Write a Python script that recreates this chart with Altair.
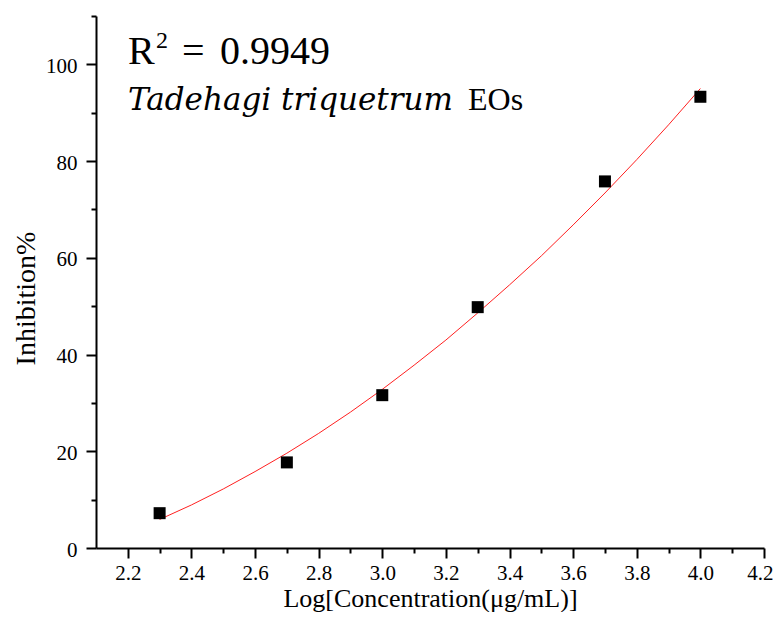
import altair as alt
import pandas as pd

# Measured data points
log_conc = [2.3, 2.7, 3.0, 3.3, 3.7, 4.0]
inhibition = [7.2, 17.7, 31.6, 49.8, 75.8, 93.3]

# Fitted curve
fit_x = [2.3, 2.4, 2.5, 2.6, 2.7, 2.8, 2.9, 3.0, 3.1, 3.2, 3.3, 3.4, 3.5, 3.6, 3.7, 3.8, 3.9, 4.0]
fit_y = [5.9, 8.9, 12.2, 15.8, 19.6, 23.7, 28.1, 32.8, 37.8, 43.0, 48.6, 54.4, 60.4, 66.8, 73.4, 80.3, 87.5, 95.0]

# Tick values
x_major = [2.2, 2.4, 2.6, 2.8, 3.0, 3.2, 3.4, 3.6, 3.8, 4.0, 4.2]
x_minor = [2.3, 2.5, 2.7, 2.9, 3.1, 3.3, 3.5, 3.7, 3.9, 4.1]
y_major = [0, 20, 40, 60, 80, 100]
y_minor = [10, 30, 50, 70, 90, 110]

x_title = "Log[Concentration(μg/mL)]"
y_title = "Inhibition%"
r_label = "R"
r_sup = "2"
r_eq = "="
r_value = "0.9949"
species = "Tadehagi triquetrum"
suffix = "EOs"

W, H = 668, 532
SERIF = "Liberation Serif"

df_pts = pd.DataFrame({"x": log_conc, "y": inhibition})
df_fit = pd.DataFrame({"x": fit_x, "y": fit_y})

xscale = alt.Scale(domain=[2.1, 4.2], nice=False, zero=False)
yscale = alt.Scale(domain=[0, 110], nice=False, zero=False)

common = dict(tickColor="black", tickWidth=2, domainColor="black", domainWidth=2,
              grid=False, labelOverlap=False)

x_axis = alt.Axis(values=x_major, format=".1f", orient="bottom", title=x_title,
                  tickSize=10, labelPadding=4, labelFont=SERIF, labelFontSize=21,
                  labelColor="black", labelFlush=True, labelFlushOffset=9,
                  titleFont=SERIF, titleFontSize=26,
                  titleFontWeight="normal", titleColor="black", titleY=58,
                  titleX=W / 2, titleAlign="center", titleBaseline="alphabetic", **common)
y_axis = alt.Axis(values=y_major, format="d", orient="left", title=y_title,
                  tickSize=10, labelPadding=9, labelFont=SERIF, labelFontSize=21,
                  labelColor="black", labelOffset=2, labelFlush=False,
                  titleFont=SERIF, titleFontSize=28,
                  titleFontWeight="normal", titleColor="black", titleX=-62, titleY=282,
                  titleAngle=-90, titleAlign="center", titleBaseline="alphabetic", **common)

x_minor_axis = alt.Axis(values=x_minor, orient="bottom", labels=False, title="",
                        tickSize=5, tickColor="black", tickWidth=2, domain=False, grid=False)
y_minor_axis = alt.Axis(values=y_minor, orient="left", labels=False, title="",
                        tickSize=5, tickColor="black", tickWidth=2, domain=False, grid=False)

curve = alt.Chart(df_fit).mark_line(color="#ff2020", strokeWidth=1).encode(
    x=alt.X("x:Q", scale=xscale, axis=None),
    y=alt.Y("y:Q", scale=yscale, axis=None),
)

minor = alt.Chart(df_pts).mark_point(opacity=0).encode(
    x=alt.X("x:Q", scale=xscale, axis=x_minor_axis),
    y=alt.Y("y:Q", scale=yscale, axis=y_minor_axis),
)

pts = alt.Chart(df_pts).mark_square(size=144, color="black", opacity=1, filled=True).encode(
    x=alt.X("x:Q", scale=xscale, axis=x_axis),
    y=alt.Y("y:Q", scale=yscale, axis=y_axis),
)


def label(text, x, y, size, font=SERIF, style="normal"):
    return alt.Chart(pd.DataFrame({"t": [text]})).mark_text(
        font=font, fontSize=size, fontStyle=style, align="left",
        baseline="alphabetic", color="black"
    ).encode(x=alt.value(x), y=alt.value(y), text="t:N")


texts = [
    label(r_label, 32, 48, 40),
    label(r_sup, 60, 32, 24),
    label(r_eq, 86, 48, 40),
    label(r_value, 124, 48, 40),
    label(species, 32, 94, 31, font="DejaVu Serif", style="italic"),
    label(suffix, 372, 94, 32),
]

chart = alt.layer(curve, minor, pts, *texts).resolve_axis(
    x="independent", y="independent"
).properties(
    width=W, height=H,
    autosize=alt.AutoSizeParams(type="none"),
    padding={"left": 88, "top": 8, "right": 10, "bottom": 64},
).configure_view(stroke=None)

chart.save("out.html", embed_options={"renderer": "svg", "actions": False})
